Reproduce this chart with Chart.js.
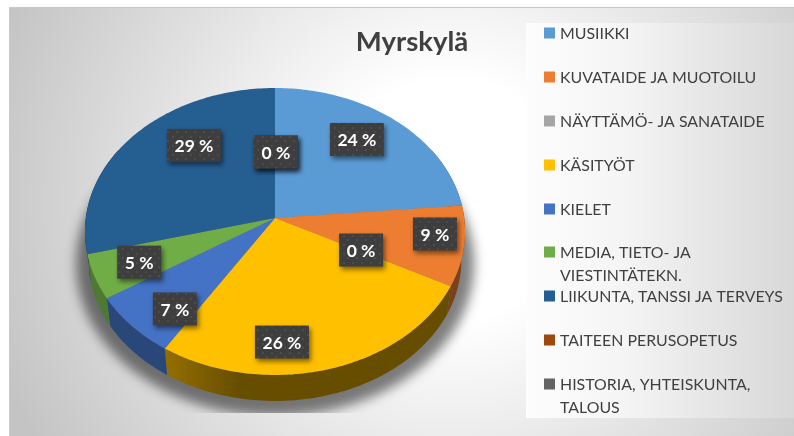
<!DOCTYPE html>
<html><head><meta charset="utf-8">
<style>html,body{margin:0;padding:0;background:#fff}canvas{display:block}</style>
<script src="https://cdn.jsdelivr.net/npm/chart.js@4"></script>
</head><body><canvas id="c" width="794" height="436"></canvas>
<script>
const chartTitle = 'Myrskylä';
const categories = ['MUSIIKKI','KUVATAIDE JA MUOTOILU','NÄYTTÄMÖ- JA SANATAIDE','KÄSITYÖT','KIELET','MEDIA, TIETO- JA VIESTINTÄTEKN.','LIIKUNTA, TANSSI JA TERVEYS','TAITEEN PERUSOPETUS','HISTORIA, YHTEISKUNTA, TALOUS'];
const legendLines = [['MUSIIKKI'],['KUVATAIDE JA MUOTOILU'],['NÄYTTÄMÖ- JA SANATAIDE'],['KÄSITYÖT'],['KIELET'],['MEDIA, TIETO- JA','VIESTINTÄTEKN.'],['LIIKUNTA, TANSSI JA TERVEYS'],['TAITEEN PERUSOPETUS'],['HISTORIA, YHTEISKUNTA,','TALOUS']];
const values = [23.6, 9, 0, 26.4, 7, 5, 29, 0, 0];
const colors = ['#5b9bd5','#ed7d31','#a5a5a5','#ffc000','#4472c4','#70ad47','#255e91','#9e480e','#636363'];
const sideShadeStart = [.5,.52,.5,.58,.62,.7,.5,.5,.5];
const sideShadeEnd   = [.5,.52,.5,.40,.62,.7,.5,.5,.5];
const labelRadius = [.74,.844,.497,.807,.783,.76,.70,.485,.485];
const labelShift  = [-4.4,-3.6,-1,12.7,-5.4,0,12.2,.6,.6];
const legendRowY = [33,77,121,165,209,252,296,340,384];

const K = .094;
const topFace = {cx:275, cy:218, a:189.2, b:142.2};
const lowFace = {cx:275, cy:247, a:185.5, b:139.5};
function project(f, theta, r){
  const x = r*Math.sin(theta), y = -r*Math.cos(theta), w = 1-K*y;
  return [f.cx+f.a*x/w, f.cy+f.b*y/w];
}
function shade(hex, t){
  const n = parseInt(hex.slice(1),16);
  return `rgb(${Math.round((n>>16&255)*t)},${Math.round((n>>8&255)*t)},${Math.round((n&255)*t)})`;
}
function dotPattern(ctx){
  const p = document.createElement('canvas'); p.width = 9; p.height = 9;
  const g = p.getContext('2d');
  g.fillStyle = '#3e3e3e'; g.fillRect(0,0,9,9);
  g.fillStyle = '#4c4c4c'; g.fillRect(1,1,2,2); g.fillRect(5,5,2,2);
  return ctx.createPattern(p,'repeat');
}
const pie3d = {
  id:'pie3d',
  beforeDraw(chart){
    const ctx = chart.ctx;
    ctx.save();
    ctx.fillStyle = '#fff'; ctx.fillRect(0,0,794,436);
    let g = ctx.createRadialGradient(450,200,120,450,200,480);
    g.addColorStop(0,'#ffffff'); g.addColorStop(1,'#c4c4c4');
    ctx.fillStyle = g; ctx.fillRect(10,8,784,428);
    ctx.fillStyle = '#c9c9c9'; ctx.fillRect(9,7,785,1); ctx.fillRect(9,7,1,429);
    g = ctx.createLinearGradient(526,0,794,0);
    g.addColorStop(0,'#fdfdfd'); g.addColorStop(.35,'#f5f5f5'); g.addColorStop(1,'#d8d8d8');
    ctx.fillStyle = g; ctx.fillRect(526,23,268,395);
    ctx.restore();
  },
  beforeDatasetDraw(chart, args){
    const ctx = chart.ctx, arcs = chart.getDatasetMeta(args.index).data;
    const toTheta = a => a + Math.PI/2;
    // soft ground shadow
    ctx.save();
    ctx.beginPath(); ctx.rect(10,8,516,405); ctx.clip();
    ctx.filter = 'blur(6px)';
    ctx.fillStyle = 'rgba(0,0,0,.5)';
    ctx.beginPath(); ctx.ellipse(275,264,199,152,0,0,Math.PI*2); ctx.fill();
    ctx.restore();
    // rim
    const lo = 60*Math.PI/180, hi = 300*Math.PI/180;
    arcs.forEach((arc,i)=>{
      const s = Math.max(toTheta(arc.startAngle),lo), e = Math.min(toTheta(arc.endAngle),hi);
      if(e-s <= 1e-4) return;
      const n = Math.max(2,Math.ceil((e-s)*60));
      ctx.beginPath();
      let minX = 1e9;
      for(let j=0;j<=n;j++){ const p = project(topFace,s+(e-s)*j/n,1); minX=Math.min(minX,p[0]); j?ctx.lineTo(p[0],p[1]):ctx.moveTo(p[0],p[1]); }
      for(let j=n;j>=0;j--){ const p = project(lowFace,s+(e-s)*j/n,1); ctx.lineTo(p[0],p[1]); }
      ctx.closePath();
      const g = ctx.createLinearGradient(minX,0,minX+75,0);
      g.addColorStop(0,shade(colors[i],sideShadeStart[i]));
      g.addColorStop(1,shade(colors[i],sideShadeEnd[i]));
      ctx.fillStyle = g; ctx.fill();
    });
    // top faces from the arc elements' own angles
    arcs.forEach((arc,i)=>{
      const s = toTheta(arc.startAngle), e = toTheta(arc.endAngle);
      if(e-s <= 1e-4) return;
      const n = Math.max(2,Math.ceil((e-s)*60));
      ctx.beginPath(); ctx.moveTo(topFace.cx,topFace.cy);
      for(let j=0;j<=n;j++){ const p = project(topFace,s+(e-s)*j/n,1); ctx.lineTo(p[0],p[1]); }
      ctx.closePath();
      ctx.fillStyle = colors[i]; ctx.fill();
    });
    return false;
  },
  afterDatasetsDraw(chart){
    const ctx = chart.ctx, arcs = chart.getDatasetMeta(0).data;
    const pat = dotPattern(ctx);
    ctx.save();
    ctx.textAlign = 'center'; ctx.textBaseline = 'middle';
    arcs.forEach((arc,i)=>{
      const mid = (arc.startAngle+arc.endAngle)/2 + Math.PI/2 + labelShift[i]*Math.PI/180;
      const [x,y] = project(topFace,mid,labelRadius[i]);
      const txt = Math.round(values[i]) + ' %';
      const w = txt.length>3 ? 54 : 44, h = 33;
      ctx.save();
      ctx.shadowColor = 'rgba(0,0,0,.5)'; ctx.shadowBlur = 5; ctx.shadowOffsetX = 2; ctx.shadowOffsetY = 3;
      ctx.fillStyle = pat; ctx.fillRect(x-w/2,y-h/2,w,h);
      ctx.restore();
      ctx.fillStyle = '#fff'; ctx.font = 'bold 17.5px Lato, "Open Sans"';
      ctx.fillText(txt,x,y+1);
    });
    // title
    ctx.fillStyle = '#404040'; ctx.font = 'bold 27.5px Lato';
    ctx.fillText(chartTitle,412,42);
    // legend
    ctx.textAlign = 'left'; ctx.font = '15.9px Lato';
    legendLines.forEach((lines,i)=>{
      const y = legendRowY[i];
      ctx.fillStyle = colors[i]; ctx.fillRect(544,y-5.5,11,11);
      ctx.fillStyle = '#404040';
      lines.forEach((t,j)=>ctx.fillText(t,560,y+j*23+.5));
    });
    ctx.restore();
  }
};
new Chart(document.getElementById('c'),{
  type:'pie',
  data:{labels:categories,datasets:[{data:values,backgroundColor:colors,borderWidth:0}]},
  options:{responsive:false,animation:false,events:[],plugins:{legend:{display:false},title:{display:false},tooltip:{enabled:false}}},
  plugins:[pie3d]
});
</script></body></html>
